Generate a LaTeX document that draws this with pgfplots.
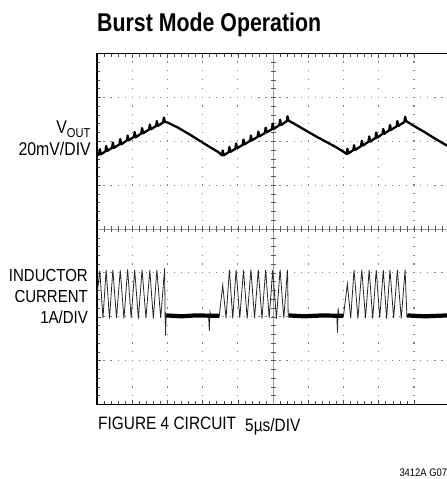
\documentclass[border=0pt]{standalone}
\usepackage{pgfplots}
\pgfplotsset{compat=1.18}
\usepackage{fontspec}
\setmainfont{Liberation Sans}[FakeStretch=0.86]
\newfontfamily\titlefont{Liberation Sans}[FakeStretch=0.83]
\begin{document}
\begin{tikzpicture}
\useasboundingbox (0,0) rectangle (447bp,479bp);
\begin{axis}[
  at={(97bp,74.5bp)}, anchor=south west,
  scale only axis, width=350bp, height=351bp,
  xmin=0, xmax=9.94, ymin=0, ymax=8,
  axis line style={draw=none},
  xtick={0,1,...,9}, ytick={0,1,...,8},
  minor x tick num=4, minor y tick num=4,
  xticklabels={}, yticklabels={},
  tick align=inside, xtick pos=both, ytick pos=left,
  major tick length=4bp, minor tick length=3bp,
  tick style={gray!60!black, line width=0.5bp},
  clip=false,
]
% dotted grid
\pgfplotsinvokeforeach{1,2,3,5,6,7}{
  \draw[gray, line width=1.2bp, dash pattern=on 1.2bp off 5.84bp, dash phase=0.6bp] (axis cs:0,#1) -- (axis cs:9.94,#1);
}
\pgfplotsinvokeforeach{1,2,3,4,6,7,8,9}{
  \draw[gray, line width=1.2bp, dash pattern=on 1.2bp off 7.58bp, dash phase=0.6bp] (axis cs:#1,0) -- (axis cs:#1,8);
}
% centre lines with ticks
\draw[gray!80, line width=0.6bp] (axis cs:0,4) -- (axis cs:9.94,4);
\draw[gray!80, line width=0.6bp] (axis cs:5,0) -- (axis cs:5,8);
\pgfplotsinvokeforeach{0.2,0.4,...,9.8}{
  \draw[gray!70!black, line width=0.5bp] (axis cs:#1,3.94) -- (axis cs:#1,4.06);
}
\pgfplotsinvokeforeach{0.2,0.4,...,7.8}{
  \draw[gray!70!black, line width=0.5bp] (axis cs:4.93,#1) -- (axis cs:5.07,#1);
}
% border
\draw[black, line width=1.6bp] (axis cs:9.94,8) -- (axis cs:0,8) -- (axis cs:0,0) -- (axis cs:9.94,0);

% V_OUT trace
\addplot[black, line width=2.3bp, line join=round] coordinates {
(0,5.68)(0.06,5.70)(0.08,5.82)(0.11,5.70)
(0.24,5.77)(0.26,5.89)(0.29,5.78)
(0.43,5.85)(0.45,5.97)(0.48,5.85)
(0.64,5.93)(0.66,6.05)(0.69,5.93)
(0.85,6.02)(0.87,6.13)(0.90,6.02)
(1.05,6.10)(1.07,6.21)(1.10,6.09)
(1.26,6.18)(1.28,6.30)(1.31,6.18)
(1.48,6.27)(1.50,6.38)(1.53,6.27)
(1.68,6.35)(1.70,6.46)(1.73,6.35)
(1.88,6.43)(1.90,6.54)(1.93,6.44)
(2.0,6.43)(2.1,6.39)(2.3,6.31)(2.6,6.17)(2.9,6.02)(3.2,5.87)(3.45,5.75)
(3.55,5.68)(3.57,5.79)(3.60,5.68)
(3.74,5.75)(3.76,5.87)(3.79,5.76)
(3.93,5.83)(3.95,5.95)(3.98,5.84)
(4.14,5.92)(4.16,6.04)(4.19,5.93)
(4.35,6.01)(4.37,6.13)(4.40,6.02)
(4.56,6.10)(4.58,6.22)(4.61,6.11)
(4.77,6.19)(4.79,6.31)(4.82,6.20)
(4.97,6.28)(4.99,6.40)(5.02,6.28)
(5.18,6.37)(5.20,6.49)(5.23,6.37)
(5.39,6.46)(5.41,6.57)(5.44,6.47)
(5.6,6.40)(5.9,6.26)(6.2,6.12)(6.5,5.99)(6.8,5.86)(7.0,5.76)
(7.09,5.71)(7.11,5.83)(7.14,5.72)
(7.28,5.80)(7.30,5.91)(7.33,5.80)
(7.50,5.89)(7.52,6.01)(7.55,5.90)
(7.71,5.99)(7.73,6.11)(7.76,5.99)
(7.91,6.08)(7.93,6.20)(7.96,6.08)
(8.11,6.17)(8.13,6.28)(8.16,6.17)
(8.30,6.25)(8.32,6.37)(8.35,6.26)
(8.51,6.34)(8.53,6.46)(8.56,6.35)
(8.73,6.44)(8.75,6.56)(8.78,6.46)
(9.0,6.35)(9.3,6.21)(9.6,6.06)(9.94,5.90)
};

% inductor current trace
\addplot[black!85, line width=0.8bp] coordinates {
(0,2.5)(0.08,3.05)(0.17,1.97)(0.26,3.07)(0.355,1.96)(0.45,3.07)(0.555,1.97)
(0.66,3.06)(0.765,1.96)(0.87,3.08)(0.97,1.97)(1.07,3.07)(1.175,1.96)
(1.28,3.07)(1.39,1.97)(1.50,3.06)(1.60,1.96)(1.70,3.07)(1.81,1.97)
(1.92,3.10)(1.935,2.0)(1.95,1.57)(1.96,2.05)(1.98,2.0)
(3.17,2.02)(3.19,1.68)(3.21,2.1)(3.23,2.02)
(3.47,2.0)(3.57,2.72)(3.665,1.97)(3.76,3.07)(3.855,1.96)(3.95,3.07)
(4.055,1.97)(4.16,3.06)(4.265,1.96)(4.37,3.07)(4.475,1.97)(4.58,3.07)
(4.685,1.96)(4.79,3.07)(4.89,1.97)(4.99,3.06)(5.095,1.96)(5.20,3.07)
(5.305,1.97)(5.41,3.07)(5.43,2.02)
(6.81,2.02)(6.83,1.64)(6.85,2.2)(6.87,2.0)(7.0,2.02)
(7.11,2.75)(7.205,1.97)(7.30,3.07)(7.41,1.96)(7.52,3.07)(7.625,1.97)
(7.73,3.07)(7.83,1.96)(7.93,3.07)(8.03,1.97)(8.13,3.07)(8.225,1.96)
(8.32,3.07)(8.425,1.97)(8.53,3.07)(8.64,1.96)(8.75,3.07)(8.80,2.02)
(9.94,2.02)
};
% thick noisy flat segments
\addplot[black, line width=4.2bp] coordinates {(1.97,2.03)(2.4,2.01)(2.8,2.03)(3.47,2.02)};
\addplot[black, line width=4.2bp] coordinates {(5.44,2.03)(5.9,2.01)(6.4,2.03)(7.0,2.02)};
\addplot[black, line width=4.2bp] coordinates {(8.81,2.03)(9.3,2.01)(9.94,2.03)};
\end{axis}

% texts
\node[anchor=base west, inner sep=0pt, font=\titlefont\bfseries\fontsize{25.8}{30}\selectfont] at (97bp,447.3bp) {Burst Mode Operation};
\node[anchor=base east, inner sep=0pt, font=\fontsize{18.5}{20}\selectfont] at (91bp,345bp) {V\textsubscript{OUT}};
\node[anchor=base east, inner sep=0pt, font=\fontsize{18.5}{20}\selectfont] at (91bp,323bp) {20mV/DIV};
\node[anchor=base east, inner sep=0pt, font=\fontsize{17.5}{20}\selectfont] at (88bp,197.3bp) {INDUCTOR};
\node[anchor=base east, inner sep=0pt, font=\fontsize{17.5}{20}\selectfont] at (88bp,176.3bp) {CURRENT};
\node[anchor=base east, inner sep=0pt, font=\fontsize{17.5}{20}\selectfont] at (88bp,155.7bp) {1A/DIV};
\node[anchor=base west, inner sep=0pt, font=\fontsize{18}{20}\selectfont] at (98bp,49bp) {FIGURE 4 CIRCUIT};
\node[anchor=base west, inner sep=0pt, font=\fontsize{18}{20}\selectfont] at (245bp,47.3bp) {5µs/DIV};
\node[anchor=base west, inner sep=0pt, font=\fontsize{11}{12}\selectfont] at (399.3bp,3bp) {3412A G07};
\end{tikzpicture}
\end{document}
